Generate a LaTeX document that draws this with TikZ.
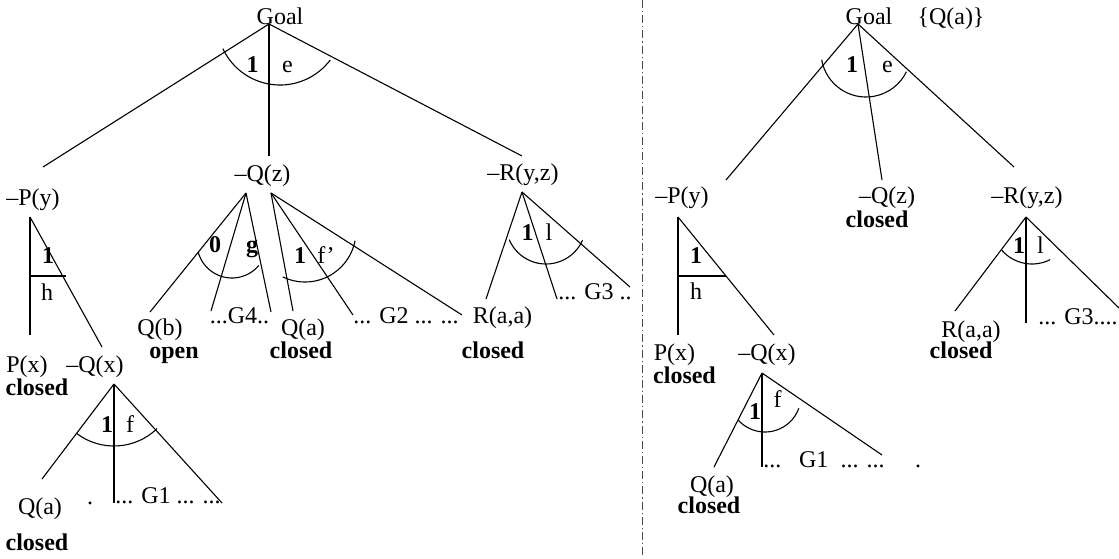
\documentclass[tikz,border=0pt]{standalone}
\usepackage{fontspec}
\setmainfont{Liberation Serif}
\begin{document}
\begin{tikzpicture}[x=0.5pt,y=-0.5pt,
  font=\fontsize{12}{14}\selectfont,
  lbl/.style={anchor=base,inner sep=0pt},
  wlbl/.style={anchor=base west,inner sep=0pt},
  bfl/.style={lbl,font=\fontsize{12}{14}\selectfont\bfseries},
  branch/.style={line width=0.55pt},
  sweep/.style={line width=0.55pt}]
\useasboundingbox (0,0) rectangle (1119,558);
% separator between the two trees
\draw[black!70,line width=0.5pt,dash pattern=on 4pt off 1.5pt on 0.6pt off 1.5pt]
  (642,0) -- (642,558);

% ---------- left tree ----------
\foreach \n/\x/\y/\t in {
  lgoal/280/24/Goal, le/287.5/72/e, lQz/262.5/181/{--Q(z)},
  lRyz/523/180/{--R(y,z)}, lPy/33/205/{--P(y)}, lh/47/300/h,
  lPx/27/372/P(x), lQx/95/372/{--Q(x)}, lf/130/432/f,
  lQa/40/514/Q(a), ldot/90/504/., lQb/160/335/Q(b),
  lG4/239.5/323/{...G4..}, lQa2/303/335/Q(a), lRaa/502.5/323/{R(a,a)},
  ll/549/240/l, lfp/326/263/{f'}}
  \node[lbl] (\n) at (\x,\y) {\t};
\foreach \n/\x/\y/\t in {
  lG1/115/503/{... G1 ... ...}, lG2/353/323/{... G2 ... ...},
  lG3/558/299/{... G3 ..}}
  \node[wlbl] (\n) at (\x,\y) {\t};
\foreach \n/\x/\y/\t in {
  lone/252.5/72/1, lPone/48/263/1, lQxone/107/432/1, lzero/215/252/0,
  lg/252/252/g, lQzone/300/263/1, lRone/527.5/240/1,
  lPx-st/37/395/closed, lQa-st/37/550/closed, lQb-st/174/358/open,
  lQa2-st/301/358/closed, lRaa-st/493/358/closed}
  \node[bfl] (\n) at (\x,\y) {\t};
% branch ends
\foreach \n/\x/\y in {
  lgoal-a/269/24, lP-e/43/167, lQ-e/269/156, lR-e/522/156,
  lP-a/30/217, lPx-e/30/335, lQx-e/102/347, lh-l/30/276, lh-r/66/276,
  lQx-a/114/384, lQa-e/42/479, lG1-e/114/503, lG1r-e/222/503,
  lQz-a/246/193, lQb-e/150/312, lG4-e/211/311, lG4r-e/271/312,
  lQz-b/271/193, lQa2-e/293/311, lG2-e/353/315, lRaa-e/462/315,
  lR-a/522/192, lRaa2-e/486/299, lG3-e/557/299, lG3r-e/630/287}
  \coordinate (\n) at (\x,\y);
\foreach \a/\b in {
  lgoal-a/lP-e, lgoal-a/lQ-e, lgoal-a/lR-e,
  lP-a/lPx-e, lP-a/lQx-e, lh-l/lh-r,
  lQx-a/lQa-e, lQx-a/lG1-e, lQx-a/lG1r-e,
  lQz-a/lQb-e, lQz-a/lG4-e, lQz-a/lG4r-e,
  lQz-b/lQa2-e, lQz-b/lG2-e, lQz-b/lRaa-e,
  lR-a/lRaa2-e, lR-a/lG3-e, lR-a/lG3r-e}
  \draw[branch] (\a) -- (\b);
% sweeps
\draw[sweep] (280,22) ++(205:31.5pt) arc[start angle=205,end angle=323,radius=31.5pt];
\draw[sweep] (114,384) ++(233:31pt) arc[start angle=233,end angle=314,radius=31pt];
\draw[sweep] (232,243) ++(195:17.5pt) arc[start angle=195,end angle=320,radius=17.5pt];
\draw[sweep] (305,231) ++(244:25.5pt) arc[start angle=244,end angle=349,radius=25.5pt];
\draw[sweep] (546,224) ++(203:20pt) arc[start angle=203,end angle=336,radius=20pt];

% ---------- right tree ----------
\foreach \n/\x/\y/\t in {
  rgoal/869/24/Goal, rset/951/24/{\{Q(a)\}}, re/887.5/72/e,
  rPy/682/203/{--P(y)}, rQz/887/203/{--Q(z)}, rRyz/1027/203/{--R(y,z)},
  rh/696/299/h, rPx/674.5/360/P(x), rQx/767/360/{--Q(x)},
  rl/1040.5/253/l, rRaa/971/337/{R(a,a)}, rf/777.5/407/f,
  rdot/918/467/., rQa/712/492/Q(a)}
  \node[lbl] (\n) at (\x,\y) {\t};
\foreach \n/\x/\y/\t in {
  rG3/1038/324/{... G3....},
  rG1/763/467/{...\hspace{8.8pt}G1\hspace{6.2pt}... ...}}
  \node[wlbl] (\n) at (\x,\y) {\t};
\foreach \n/\x/\y/\t in {
  rone/852/72/1, rPone/696/263/1, rRone/1019/253/1, rQxone/755/419/1,
  rQz-st/877/227/closed, rPx-st/684.5/383/closed,
  rRaa-st/961/358/closed, rQa-st/709/513/closed}
  \node[bfl] (\n) at (\x,\y) {\t};
% branch ends
\foreach \n/\x/\y in {
  rgoal-a/858/24, rP-e/726/180, rQ-e/882/180, rR-e/1014/167,
  rP-a/678/217, rPx-e/678/335, rQx-e/774/335, rh-l/678/276, rh-r/726/276,
  rQx-a/762/373, rQa-e/714/467, rG1-e/762/467, rG1r-e/882/455,
  rR-a/1026/217, rRaa-e/955/311, rG3-e/1026/323, rG3r-e/1119/308}
  \coordinate (\n) at (\x,\y);
\foreach \a/\b in {
  rgoal-a/rP-e, rgoal-a/rQ-e, rgoal-a/rR-e,
  rP-a/rPx-e, rP-a/rQx-e, rh-l/rh-r,
  rQx-a/rQa-e, rQx-a/rG1-e, rQx-a/rG1r-e,
  rR-a/rRaa-e, rR-a/rG3-e, rR-a/rG3r-e}
  \draw[branch] (\a) -- (\b);
% sweeps
\draw[sweep] (866,52) ++(190:22.5pt) arc[start angle=190,end angle=334,radius=22.5pt];
\draw[sweep] (1032,224) ++(221:20pt) arc[start angle=221,end angle=297,radius=20pt];
\draw[sweep] (765,396) ++(222:18pt) arc[start angle=222,end angle=340,radius=18pt];
\end{tikzpicture}
\end{document}
